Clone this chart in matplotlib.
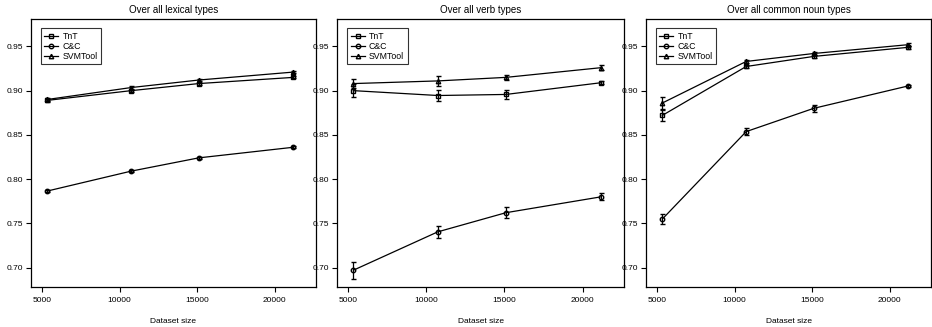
import matplotlib
matplotlib.use("Agg")
import matplotlib.pyplot as plt
from matplotlib.lines import Line2D
import numpy as np

plt.rcParams['font.family'] = ['Liberation Sans', 'DejaVu Sans']

sizes = [5350, 10750, 15100, 21200]
titles = ["Over all lexical types", "Over all verb types", "Over all common noun types"]
series = ["TnT", "C&C", "SVMTool"]

# panel 1: lexical
lex_tnt = [0.889, 0.900, 0.908, 0.915]
lex_cc = [0.7865, 0.809, 0.824, 0.836]
lex_svm = [0.890, 0.9035, 0.912, 0.921]
lex_tnt_err = [0.0015, 0.0012, 0.0012, 0.0012]
lex_cc_err = [0.0015, 0.0010, 0.0010, 0.0010]
lex_svm_err = [0.0015, 0.0012, 0.0012, 0.0012]

# panel 2: verb
verb_tnt = [0.900, 0.8945, 0.8957, 0.909]
verb_cc = [0.697, 0.7404, 0.762, 0.780]
verb_svm = [0.908, 0.911, 0.915, 0.926]
verb_tnt_err = [0.0077, 0.006, 0.005, 0.002]
verb_cc_err = [0.0095, 0.0065, 0.0065, 0.004]
verb_svm_err = [0.005, 0.0055, 0.003, 0.003]

# panel 3: common noun
noun_tnt = [0.872, 0.9273, 0.9387, 0.949]
noun_cc = [0.7548, 0.8537, 0.880, 0.9054]
noun_svm = [0.886, 0.933, 0.942, 0.952]
noun_tnt_err = [0.006, 0.002, 0.002, 0.0015]
noun_cc_err = [0.006, 0.004, 0.004, 0.0015]
noun_svm_err = [0.007, 0.002, 0.002, 0.0015]

panels = [
    (lex_tnt, lex_cc, lex_svm, lex_tnt_err, lex_cc_err, lex_svm_err),
    (verb_tnt, verb_cc, verb_svm, verb_tnt_err, verb_cc_err, verb_svm_err),
    (noun_tnt, noun_cc, noun_svm, noun_tnt_err, noun_cc_err, noun_svm_err),
]
markers = ['s', 'o', '^']

fig = plt.figure(figsize=(9.32, 3.27), dpi=100)
W, H = 932.0, 327.0
boxes = [(31, 316), (337, 624), (646, 931)]
top, bottom = 19, 287

for (l, r), title, data in zip(boxes, titles, panels):
    ax = fig.add_axes([l / W, 1 - bottom / H, (r - l) / W, (bottom - top) / H])
    ax.patch.set_alpha(0)
    vals = data[:3]
    errs = data[3:]
    handles = []
    for v, e, m, name in zip(vals, errs, markers, series):
        ax.errorbar(sizes, v, yerr=e, color='black', marker=m, markersize=3.2,
                    markerfacecolor='none', markeredgewidth=1.0, linewidth=0.9,
                    capsize=1.8, elinewidth=0.9, capthick=0.9)
        handles.append(Line2D([], [], color='black', marker=m, markersize=3.2,
                              markerfacecolor='none', markeredgewidth=1.0,
                              linewidth=0.9, label=name))
    ax.set_xlim(4300, 22650)
    ax.set_ylim(0.678, 0.981)
    ax.set_xticks([5000, 10000, 15000, 20000])
    ax.set_yticks([0.70, 0.75, 0.80, 0.85, 0.90, 0.95])
    ax.set_yticklabels(["0.70", "0.75", "0.80", "0.85", "0.90", "0.95"])
    ax.tick_params(labelsize=6, length=3.5, width=0.8)
    ax.tick_params(axis='x', pad=4)
    ax.tick_params(axis='y', pad=2)
    for s in ax.spines.values():
        s.set_linewidth(0.9)
    ax.set_title(title, fontsize=7, pad=4)
    ax.set_xlabel("Dataset size", fontsize=6, labelpad=10)
    leg = ax.legend(handles=handles, loc='upper left', bbox_to_anchor=(0.035, 0.965),
                    fontsize=6.3, frameon=True, fancybox=False, handlelength=1.6,
                    handletextpad=0.5, borderpad=0.4, labelspacing=0.1, borderaxespad=0)
    leg.get_frame().set_edgecolor('black')
    leg.get_frame().set_linewidth(0.8)

fig.savefig("out.png", dpi=100)
